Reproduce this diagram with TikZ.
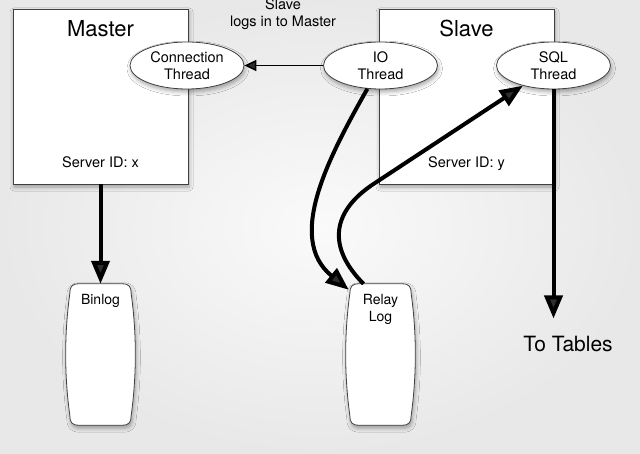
\documentclass[tikz,border=0pt]{standalone}
\usepackage{fontspec}
\setmainfont{TeX Gyre Heros}
\usetikzlibrary{shapes.geometric,arrows.meta,shadows.blur,positioning}

% barrel outline round a log node
\newcommand{\logshape}[1]{%
  \draw[logline]
    ([xshift=13pt]#1.north west) -- ([xshift=-13pt]#1.north east)
    .. controls ([xshift=-6pt]#1.north east) and ([xshift=-4pt,yshift=-3pt]#1.north east)
    .. ([xshift=-4pt,yshift=-10pt]#1.north east)
    .. controls ([xshift=1.5pt,yshift=-50pt]#1.north east) and ([xshift=1.5pt,yshift=50pt]#1.south east)
    .. ([xshift=-4pt,yshift=10pt]#1.south east)
    .. controls ([xshift=-4pt,yshift=3pt]#1.south east) and ([xshift=-6pt]#1.south east)
    .. ([xshift=-13pt]#1.south east)
    -- ([xshift=13pt]#1.south west)
    .. controls ([xshift=6pt]#1.south west) and ([xshift=4pt,yshift=3pt]#1.south west)
    .. ([xshift=4pt,yshift=10pt]#1.south west)
    .. controls ([xshift=-1.5pt,yshift=50pt]#1.south west) and ([xshift=-1.5pt,yshift=-50pt]#1.north west)
    .. ([xshift=4pt,yshift=-10pt]#1.north west)
    .. controls ([xshift=4pt,yshift=-3pt]#1.north west) and ([xshift=6pt]#1.north west)
    .. ([xshift=13pt]#1.north west) -- cycle;}

\begin{document}
\begin{tikzpicture}
  [x=1pt,y=-1pt,
   softshadow/.style={blur shadow={shadow xshift=1pt,shadow yshift=-3pt,shadow blur radius=4pt,shadow opacity=35}},
   server/.style={draw=black!75,line width=0.8pt,fill=white,minimum width=175pt,minimum height=175pt,softshadow},
   thread/.style={ellipse,draw=black!75,line width=0.8pt,fill=white,minimum width=114pt,minimum height=47pt,
                  inner sep=0pt,align=center,font=\fontsize{14.5}{16.5}\selectfont,softshadow},
   logbox/.style={minimum width=69pt,minimum height=141pt,inner sep=0pt},
   logline/.style={draw=black!75,line width=0.8pt,fill=white,softshadow},
   logtext/.style={inner sep=0pt,align=center,font=\fontsize{14}{17}\selectfont},
   title/.style={inner sep=0pt,font=\fontsize{22}{26}\selectfont},
   small/.style={inner sep=0pt,align=center,font=\fontsize{14.5}{16.5}\selectfont},
   bigarrow/.style={line width=4pt,-{Triangle[length=23pt,width=18pt]}},
   thinarrow/.style={line width=1.5pt,-{Triangle[length=12pt,width=11pt]}}]

  \useasboundingbox (0,0) rectangle (640,454);
  \shade[inner color=black!2,outer color=black!9] (0,0) rectangle (640,454);

  % servers
  \node[server] (master) at (100.5,96.5) {};
  \node[server] (slave)  at (466.5,96.5) {};
  \node[title,anchor=base] (mastername) at (100.5,37) {Master};
  \node[title,anchor=base] (slavename)  at (466.5,37) {Slave};
  \node[small,anchor=base] (masterid) at (100.5,168) {Server ID: x};
  \node[small,anchor=base] (slaveid)  at (466.5,168) {Server ID: y};

  % threads
  \node[thread] (conn) at (187,65.5)   {Connection\\Thread};
  \node[thread] (io)   at (380.5,65.5) {IO\\Thread};
  \node[thread] (sql)  at (553.5,65.5) {SQL\\Thread};

  \node[small] (note) at (283,14) {Slave\\logs in to Master};

  % logs
  \node[logbox] (binlog) at (100.5,354.5) {};
  \node[logbox] (relay)  at (380.5,354.5) {};
  \foreach \n in {binlog, relay}
    \logshape{\n};
  \node[logtext,below=10pt of binlog.north] (binlogtext) {Binlog};
  \node[logtext,below=10pt of relay.north]  (relaytext)  {Relay\\Log};

  \node[title,anchor=base,font=\fontsize{21}{25}\selectfont] (tables) at (568,352) {To Tables};

  % connectors
  \draw[thinarrow] (io) -- (conn);
  \draw[bigarrow] (master) -- (binlog);
  \draw[bigarrow] (io) .. controls (330,155) and (285,238) .. ([xshift=3pt,yshift=-6pt]relay.north west);
  \draw[bigarrow] ([xshift=-17pt]relay.north) .. controls (328,248) and (330,212) .. (375,183) -- (sql);
  \draw[bigarrow] (sql) -- ([yshift=18pt]sql.south |- tables.north);

\end{tikzpicture}
\end{document}
